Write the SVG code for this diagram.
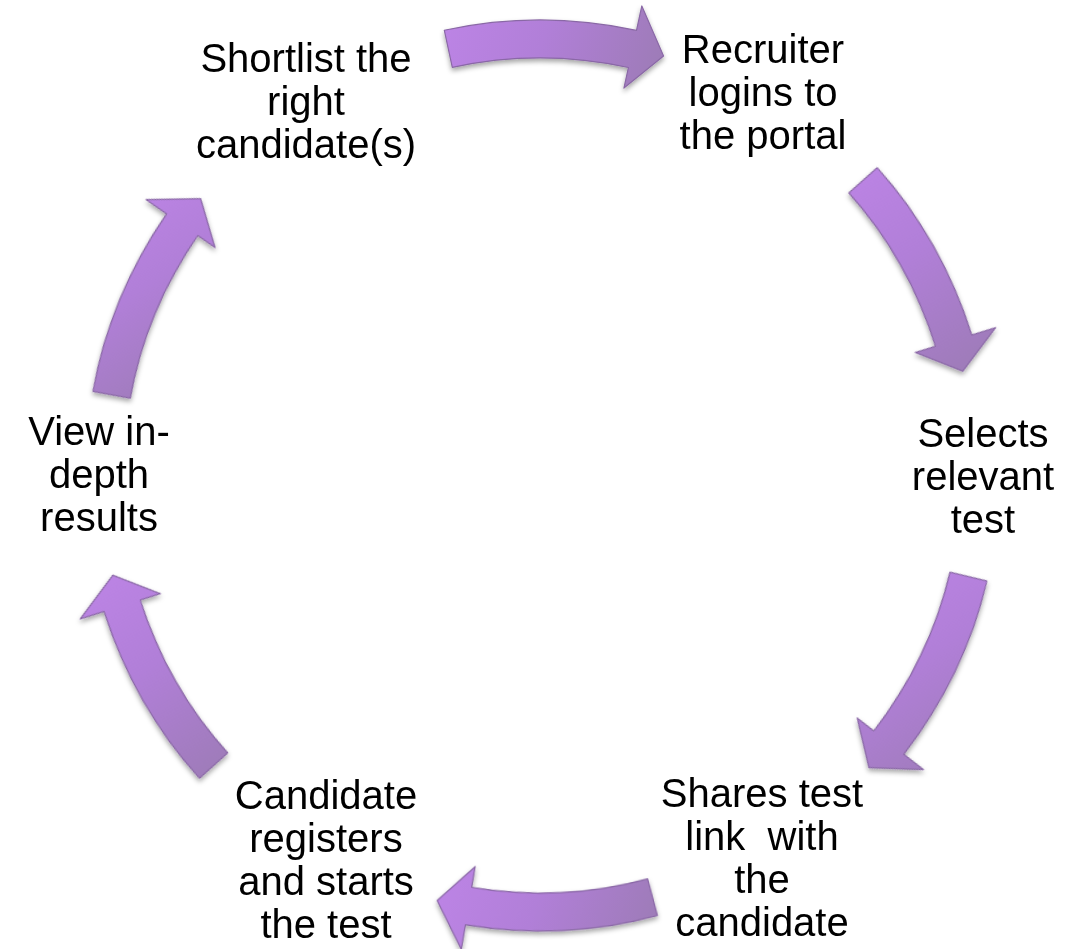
<svg xmlns="http://www.w3.org/2000/svg" width="1079" height="949" viewBox="0 0 1079 949">
  <style>
    .lbl { font-family: "Liberation Sans", Arial, sans-serif; font-size: 40px; fill: #000; text-anchor: middle; }
    .arr { stroke: #8a68a6; stroke-width: 1.2; stroke-linejoin: round; }
  </style>
  <defs>
    <linearGradient id="gbase">
      <stop offset="0" stop-color="#bd84e6"/>
      <stop offset="0.45" stop-color="#b17fd8"/>
      <stop offset="1" stop-color="#9c7bb5"/>
    </linearGradient>
    <linearGradient id="g1" href="#gbase" gradientUnits="userSpaceOnUse" gradientTransform="rotate(0)" x1="-97" y1="-468" x2="122" y2="-385"/>
    <linearGradient id="g2" href="#gbase" gradientUnits="userSpaceOnUse" gradientTransform="rotate(-60.5)" x1="303" y1="-309" x2="448" y2="-94"/>
    <linearGradient id="g3" href="#gbase" gradientUnits="userSpaceOnUse" gradientTransform="rotate(-115.6)" x1="309" y1="97" x2="441" y2="297"/>
    <linearGradient id="g4" href="#gbase" gradientUnits="userSpaceOnUse" gradientTransform="rotate(-177.2)" x1="-102" y1="387" x2="117" y2="469"/>
    <linearGradient id="g5" href="#gbase" gradientUnits="userSpaceOnUse" gradientTransform="rotate(-240.2)" x1="-458" y1="102" x2="-306" y2="305"/>
    <linearGradient id="g6" href="#gbase" gradientUnits="userSpaceOnUse" gradientTransform="rotate(-292.5)" x1="-444" y1="-270" x2="-324" y2="-90"/>
    <path id="arrow" d="M-95.73,-442.77 A453,453 0 0 1 96.50,-442.60 L101.83,-467.03 L123.55,-417.09 L83.93,-384.96 L88.41,-405.48 A415,415 0 0 0 -87.70,-405.63 Z"/>
    <filter id="shadow" x="-10%" y="-10%" width="120%" height="120%">
      <feDropShadow dx="0" dy="3" stdDeviation="2.5" flood-color="#000" flood-opacity="0.35"/>
    </filter>
  </defs>

  <g id="connectors" filter="url(#shadow)">
    <use href="#arrow" class="arr" fill="url(#g1)" transform="translate(540,473) rotate(0)"/>
    <use href="#arrow" class="arr" fill="url(#g2)" transform="translate(539,469) rotate(60.5)"/>
    <use href="#arrow" class="arr" fill="url(#g3)" transform="translate(546.3,476) rotate(115.6)"/>
    <use href="#arrow" class="arr" fill="url(#g4)" transform="translate(540.2,478) rotate(177.2)"/>
    <use href="#arrow" class="arr" fill="url(#g5)" transform="translate(536.1,475.2) rotate(240.2)"/>
    <use href="#arrow" class="arr" fill="url(#g6)" transform="translate(538.6,472.4) rotate(292.5)"/>
  </g>

  <g id="node-recruiter">
    <text class="lbl"><tspan x="763" y="63">Recruiter</tspan><tspan x="763" y="106">logins to</tspan><tspan x="763" y="149">the portal</tspan></text>
  </g>
  <g id="node-selects">
    <text class="lbl"><tspan x="983" y="447">Selects</tspan><tspan x="983" y="490">relevant</tspan><tspan x="983" y="533">test</tspan></text>
  </g>
  <g id="node-shares">
    <text class="lbl" xml:space="preserve"><tspan x="762" y="807">Shares test</tspan><tspan x="762" y="850">link  with</tspan><tspan x="762" y="893">the</tspan><tspan x="762" y="936">candidate</tspan></text>
  </g>
  <g id="node-candidate">
    <text class="lbl"><tspan x="326" y="809">Candidate</tspan><tspan x="326" y="852">registers</tspan><tspan x="326" y="895">and starts</tspan><tspan x="326" y="938">the test</tspan></text>
  </g>
  <g id="node-view">
    <text class="lbl"><tspan x="99" y="445">View in-</tspan><tspan x="99" y="488">depth</tspan><tspan x="99" y="531">results</tspan></text>
  </g>
  <g id="node-shortlist">
    <text class="lbl"><tspan x="306" y="72">Shortlist the</tspan><tspan x="306" y="115">right</tspan><tspan x="306" y="158">candidate(s)</tspan></text>
  </g>
</svg>
